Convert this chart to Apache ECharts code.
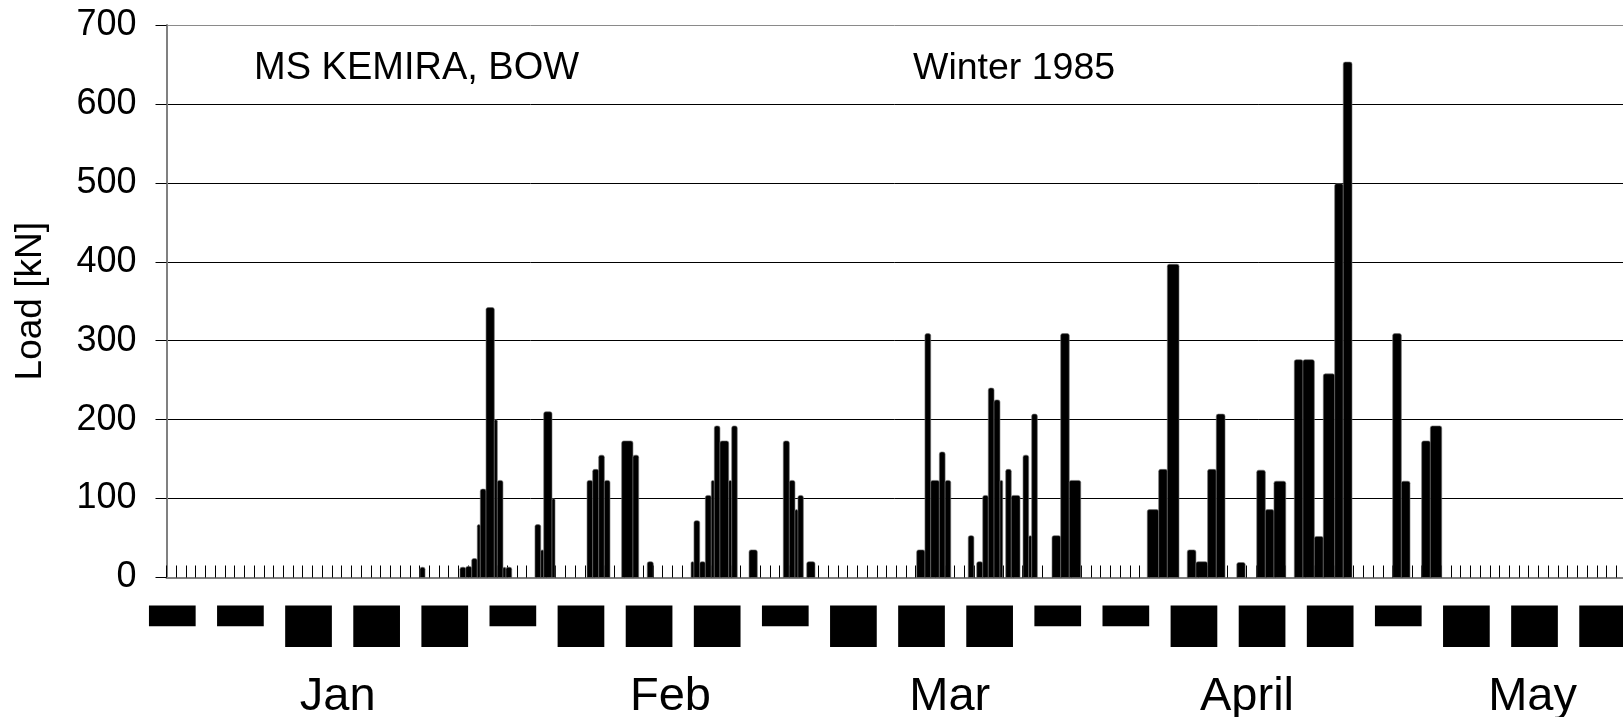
<!DOCTYPE html>
<html><head><meta charset="utf-8">
<script src="https://cdn.jsdelivr.net/npm/echarts@6/dist/echarts.min.js"></script>
<style>html,body{margin:0;padding:0;background:#fff}#c{width:1623px;height:717px}</style>
</head><body><div id="c"></div>
<script>
// Load events: start day, end day, load [kN]
const barFrom = [26.05, 30.16,30.75,31.37,31.94,32.25,32.84,33.69,34.00,34.58,34.89,
  37.87,38.46,38.77,39.62, 43.22,43.80,44.42,45.00, 46.78,47.94, 49.41,
  53.91,54.21,54.80,55.38,55.99,56.30,56.88,57.78,58.09, 59.87,
  63.39,64.01,64.59,64.90, 65.80,
  77.10,77.95,78.54,79.43,80.02, 82.40,83.27,83.89,84.46,85.05,85.66, 86.25,86.82,
  88.03,88.61,88.92, 91.01,91.90,92.78,
  100.80,101.97,102.86, 104.91,105.80,107.00,107.89, 110.00,
  112.05,112.93,113.82, 115.91,116.80,117.97,118.89,120.06,120.94,
  126.02,126.91, 129.00,129.89];
const barTo = [26.57, 30.75,31.37,31.94,32.25,32.84,33.69,34.00,34.58,34.89,35.48,
  38.46,38.77,39.62,39.93, 43.80,44.42,45.00,45.58, 47.94,48.53, 50.03,
  54.21,54.80,55.38,55.99,56.30,56.88,57.78,58.09,58.66, 60.72,
  64.01,64.59,64.90,65.45, 66.65,
  77.95,78.54,79.43,80.02,80.60, 82.98,83.89,84.46,85.05,85.66,85.94, 86.82,87.72,
  88.61,88.92,89.50, 91.90,92.78,93.96,
  101.97,102.86,104.06, 105.80,107.00,107.89,108.79, 110.86,
  112.93,113.82,115.03, 116.80,117.97,118.89,120.06,120.94,121.84,
  126.91,127.80, 129.89,131.06];
const barLoad = [13, 13,14,24,67,112,342,200,123,13,13,
  67,35,210,100, 123,137,155,123, 173,155, 20,
  20,72,20,104,123,192,173,123,192, 35,
  173,123,86,104, 20,
  35,309,123,159,123, 53,20,104,240,225,123, 137,104,
  155,53,207, 53,309,123,
  86,137,397, 35,20,137,207, 19,
  136,86,122, 276,276,52,258,499,653,
  309,122, 173,192];
// Weekly ice indicator: 1 = thin bar, 2 = thick bar
const weekIce = [1,1,2,2,2,1,2,2,2,1,2,2,2,1,1,2,2,2,1,2,2,2];
const months = ['Jan','Feb','Mar','April','May'];
const yTicks = [0,100,200,300,400,500,600,700];
const titleText = 'MS KEMIRA, BOW';
const seasonText = 'Winter 1985';

const monthAt = [17.6, 51.8, 80.5, 111.05, 140.4];
const FONT = '"Liberation Sans", Arial, sans-serif';
const W = 1623, DAY_PX = 9.73, LEFT = 166.5;
const DAYS_SHOWN = (W - LEFT) / DAY_PX;
const WEEK_PX = DAY_PX * 7, WEEK_LEFT = 138.25;
const WEEKS_SHOWN = (W - WEEK_LEFT) / WEEK_PX;

const chart = echarts.init(document.getElementById('c'), null, {renderer:'canvas'});
chart.setOption({
  animation:false,
  backgroundColor:'#fff',
  title:[
    {text:titleText, left:254, top:50, padding:0, textStyle:{fontFamily:FONT, fontSize:38, fontWeight:'normal', color:'#000', lineHeight:38}},
    {text:seasonText, left:913, top:50, padding:0, textStyle:{fontFamily:FONT, fontSize:37.5, fontWeight:'normal', color:'#000', lineHeight:38}}
  ],
  grid:[
    {left:LEFT, top:25, right:0, height:552.5, outerBoundsMode:'none', containLabel:false},
    {left:WEEK_LEFT, top:605.5, right:0, height:41.5, outerBoundsMode:'none', containLabel:false}
  ],
  xAxis:[
    {type:'value', gridIndex:0, min:0, max:DAYS_SHOWN, interval:1,
     axisLine:{show:true, onZero:false, lineStyle:{color:'#808080', width:2}},
     axisTick:{show:true, inside:true, length:12, lineStyle:{color:'#000', width:1}},
     axisLabel:{show:true, customValues:monthAt, showMinLabel:true, showMaxLabel:true,
       formatter:function(v){ for (let i=0;i<monthAt.length;i++){ if (Math.abs(monthAt[i]-v)<0.01) return months[i]; } return ''; },
       fontFamily:FONT, fontSize:47, lineHeight:47, verticalAlign:'top', color:'#000', margin:96},
     splitLine:{show:false}},
    {type:'value', gridIndex:1, min:-0.5, max:-0.5 + WEEKS_SHOWN, show:false}
  ],
  yAxis:[
    {type:'value', gridIndex:0, min:0, max:700, interval:100,
     name:'Load [kN]', nameLocation:'middle', nameRotate:90, nameGap:117,
     nameTextStyle:{fontFamily:FONT, fontSize:37, color:'#000'},
     axisLine:{show:true, lineStyle:{color:'#808080', width:2}},
     axisTick:{show:true, inside:false, length:11, lineStyle:{color:'#000', width:1}},
     axisLabel:{fontFamily:FONT, fontSize:36, color:'#000', margin:30,
       formatter:function(v){ return yTicks.indexOf(v)>=0 ? String(v) : ''; }},
     splitLine:{show:true, lineStyle:{color:['#000','#000','#000','#000','#000','#000','#000','#8a8a8a'], width:1}}},
    {type:'value', gridIndex:1, min:0, max:2, inverse:true, show:false}
  ],
  series:[
    {type:'custom', xAxisIndex:0, yAxisIndex:0, z:3,
     data: barFrom.map((f,i)=>[f, barTo[i], barLoad[i]]),
     encode:{x:[0,1], y:2},
     renderItem:function(params, api){
       const p0 = api.coord([api.value(0), api.value(2)]);
       const p1 = api.coord([api.value(1), 0]);
       return {type:'rect', shape:{x:p0[0], y:p0[1], width:p1[0]-p0[0], height:p1[1]-p0[1], r:[2,2,0,0]},
               style:{fill:'#000', stroke:'#6e6e6e', lineWidth:0.6}};
     }},
    {type:'bar', xAxisIndex:1, yAxisIndex:1, data:weekIce.map((v,i)=>[i,v]), barWidth:46.7,
     itemStyle:{color:'#000'}}
  ]
});
</script>
</body></html>
